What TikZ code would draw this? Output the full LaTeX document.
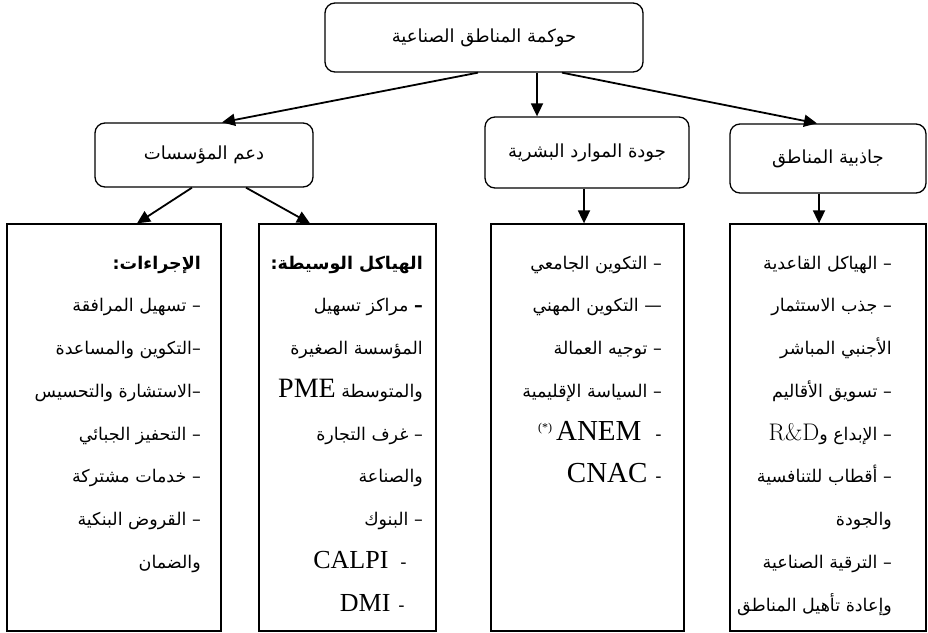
\documentclass[tikz,border=0pt]{standalone}
\usepackage{fontspec}
\usetikzlibrary{arrows.meta}
\TeXXeTstate=1
\newfontfamily\arabicfont[Script=Arabic]{DejaVu Sans}
\newfontfamily\latinfont{Liberation Serif}
\newcommand{\AR}[1]{\beginR #1\endR}
\newcommand{\LT}[2]{\beginL{\latinfont\fontsize{#1}{42.75}\selectfont #2}\endL}
\begin{document}
\begin{tikzpicture}[x=1pt,y=-1pt,
  rbox/.style={draw, line width=1.3pt, rounded corners=10pt, inner sep=0pt,
     font=\arabicfont\fontsize{18}{22}\selectfont},
  sbox/.style={draw, line width=1.3pt, inner sep=0pt},
  arr/.style={-{Triangle[length=13pt,width=12pt]}, line width=1.8pt},
  lst/.style={anchor=base east, align=right, inner sep=0pt,
     font=\arabicfont\fontsize{17.5}{42.75}\selectfont}]
\useasboundingbox (0,0) rectangle (928,632);
% top level boxes
\node[rbox, minimum width=318pt, minimum height=69pt] (top) at (484,37.5) {\AR{حوكمة المناطق الصناعية}};
\node[rbox, minimum width=218pt, minimum height=64pt] (dam) at (204,155) {\AR{دعم المؤسسات}};
\node[rbox, minimum width=204pt, minimum height=71pt] (jwd) at (587,152.5) {\AR{جودة الموارد البشرية}};
\node[rbox, minimum width=196pt, minimum height=69pt] (jdb) at (828,158.5) {\AR{جاذبية المناطق}};
% bottom boxes
\node[sbox, minimum width=214pt, minimum height=407pt] (b1) at (114,427.5) {};
\node[sbox, minimum width=177pt, minimum height=407pt] (b2) at (347.5,427.5) {};
\node[sbox, minimum width=193pt, minimum height=407pt] (b3) at (587.5,427.5) {};
\node[sbox, minimum width=196pt, minimum height=407pt] (b4) at (828,427.5) {};
% connectors
\draw[arr] ([xshift=-6pt]top.south) -- ([xshift=18pt]dam.north);
\draw[arr] ([xshift=53pt]top.south) -- ([xshift=-50pt]jwd.north);
\draw[arr] ([xshift=78pt]top.south) -- ([xshift=-11pt]jdb.north);
\draw[arr] ([xshift=-12pt]dam.south) -- ([xshift=23pt]b1.north);
\draw[arr] ([xshift=42pt]dam.south) -- ([xshift=-37.5pt]b2.north);
\draw[arr] ([xshift=-3pt]jwd.south) -- ([xshift=-3.5pt]b3.north);
\draw[arr] ([xshift=-9pt]jdb.south) -- ([xshift=-9pt]b4.north);
% texts (anchor = baseline of the last line)
\node[lst] (t1) at (201,568.25) {%
\AR{{\bfseries الإجراءات:}}\\
\AR{– تسهيل المرافقة}\\
\AR{–التكوين والمساعدة}\\
\AR{–الاستشارة والتحسيس}\\
\AR{– التحفيز الجبائي}\\
\AR{– خدمات مشتركة}\\
\AR{– القروض البنكية}\\
\AR{والضمان}};
\node[lst] (t2) at (423,611) {%
\AR{{\bfseries الهياكل الوسيطة:}}\\
\AR{{\bfseries –} مراكز تسهيل}\\
\AR{المؤسسة الصغيرة}\\
\AR{والمتوسطة \LT{28}{PME}}\\
\AR{– غرف التجارة}\\
\AR{والصناعة}\\
\AR{– البنوك}\\
\AR{\hspace*{16pt}-\hspace{12pt}\LT{26}{CALPI}}\\
\AR{\hspace*{18pt}-\hspace{8pt}\LT{26}{DMI}}};
\node[lst] (t3) at (662,482.75) {%
\AR{– التكوين الجامعي}\\
\AR{— التكوين المهني}\\
\AR{– توجيه العمالة}\\
\AR{– السياسة الإقليمية}\\
\AR{-\hspace{14pt}\LT{29}{ANEM}\hspace{4pt}\beginL{\latinfont\fontsize{12}{12}\selectfont\raisebox{9pt}{(*)}}\endL}\\
\AR{-\hspace{8pt}\LT{29}{CNAC}}};
\node[lst] (t4) at (892,611) {%
\AR{– الهياكل القاعدية}\\
\AR{– جذب الاستثمار}\\
\AR{الأجنبي المباشر}\\
\AR{– تسويق الأقاليم}\\
\AR{– الإبداع و\beginL{\rmfamily\fontsize{24}{42.75}\selectfont R\&D}\endL}\\
\AR{– أقطاب للتنافسية}\\
\AR{والجودة}\\
\AR{– الترقية الصناعية}\\
\AR{وإعادة تأهيل المناطق}};
\end{tikzpicture}
\end{document}
